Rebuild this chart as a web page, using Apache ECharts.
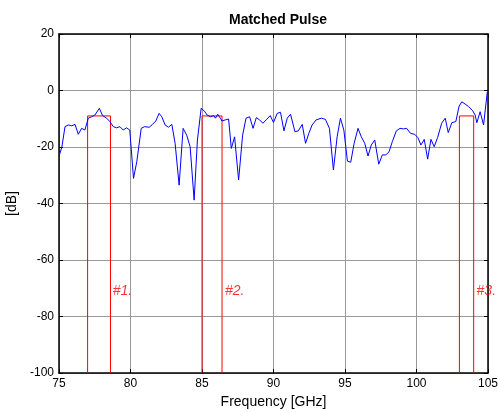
<!DOCTYPE html>
<html>
<head>
<meta charset="utf-8">
<script src="https://cdn.jsdelivr.net/npm/echarts@6/dist/echarts.min.js"></script>
<style>
  html, body { margin: 0; padding: 0; background: #fff; }
  #chart { width: 498px; height: 412px; }
</style>
</head>
<body>
<div id="chart"></div>
<script>
// measured response (GHz, dB)
const freq = [
  75.03, 75.2, 75.42, 75.65, 75.89, 76.12, 76.35, 76.58, 76.81, 77.05,
  77.28, 77.51, 77.82, 78.05, 78.33, 78.56, 78.8, 79.03, 79.26, 79.49,
  79.72, 79.95, 80.21, 80.44, 80.75, 80.98, 81.31, 81.54, 81.77, 82.0,
  82.19, 82.42, 82.65, 82.89, 83.12, 83.4, 83.68, 83.93, 84.17, 84.45,
  84.68, 84.94, 85.17, 85.36, 85.59, 85.82, 85.94, 86.1, 86.28, 86.4,
  86.63, 86.86, 87.05, 87.28, 87.56, 87.84, 88.08, 88.33, 88.57, 88.8,
  89.03, 89.26, 89.49, 89.77, 90.0, 90.26, 90.49, 90.73, 90.96, 91.19,
  91.5, 91.73, 92.01, 92.24, 92.47, 92.7, 92.98, 93.35, 93.63, 93.91,
  94.19, 94.45, 94.68, 94.92, 95.17, 95.4, 95.64, 95.91, 96.14, 96.38,
  96.61, 96.84, 97.08, 97.36, 97.61, 97.85, 98.08, 98.31, 98.59, 98.85,
  99.08, 99.31, 99.59, 99.87, 100.1, 100.31, 100.54, 100.78, 101.01, 101.24,
  101.48, 101.76, 102.01, 102.22, 102.47, 102.75, 102.98, 103.17, 103.4, 103.64,
  103.92, 104.1, 104.22, 104.45, 104.69, 104.95
];
const level = [
  -22.8, -20, -12.8, -12.2, -12.5, -12.0, -15.5, -13.4, -14.0, -9.8,
  -9.3, -8.7, -6.3, -8.9, -9.8, -11.0, -12.8, -13.2, -12.8, -14.0,
  -13.2, -14.0, -31.1, -25.2, -13.4, -12.8, -13.0, -12.0, -10.8, -8.1,
  -9.3, -12.2, -13.0, -12.0, -18.7, -33.5, -13.4, -15.8, -19.9, -38.8,
  -17.5, -6.3, -7.3, -8.7, -9.3, -8.9, -9.8, -8.4, -9.8, -10.8,
  -10.4, -10.1, -20.5, -16.4, -31.7, -15.8, -9.8, -9.3, -13.4, -9.6,
  -10.4, -11.6, -10.4, -8.9, -11.3, -8.1, -7.7, -14.3, -9.8, -8.4,
  -14.6, -14.3, -12.0, -18.7, -15.2, -12.2, -10.4, -9.8, -10.2, -13.4,
  -28.1, -16.4, -9.8, -14.0, -25.0, -25.4, -18.7, -13.4, -16.4, -18.7,
  -23.2, -19.3, -17.5, -26.1, -22.8, -22.8, -21.7, -18.1, -14.3, -13.4,
  -13.6, -13.4, -15.2, -15.5, -16.7, -19.3, -17.3, -24.3, -17.3, -19.9,
  -16.6, -11.6, -9.8, -14.9, -11.4, -11.0, -5.5, -4.0, -4.8, -5.7,
  -7.1, -8.7, -11.4, -7.5, -12.2, -0.5
];

// pulse windows
const pulseStart = [77.0, 85.0, 103.0];
const pulseEnd = [78.6, 86.4, 104.0];
const pulseTop = -9;
const pulseBottom = -100;
const pulseLabels = ['#1.', '#2.', '#3.'];
const labelX = [78.75, 86.6, 104.2];
const labelY = -71;

const xTicks = { min: 75, max: 105, interval: 5 };
const yTicks = { min: -100, max: 20, interval: 20 };

const chart = echarts.init(document.getElementById('chart'));

const lineData = freq.map((f, i) => [f, level[i]]);
const pulseData = [];
pulseStart.forEach((s, i) => {
  pulseData.push([s, pulseBottom], [s, pulseTop], [pulseEnd[i], pulseTop], [pulseEnd[i], pulseBottom]);
  if (i < pulseStart.length - 1) pulseData.push([null, null]);
});
const labelData = labelX.map((x, i) => [x, labelY, pulseLabels[i]]);

const FONT = '"Liberation Sans", Arial, sans-serif';
const axisLine = { show: true, onZero: false, lineStyle: { color: '#000', width: 1.5 } };
const tick = { show: true, inside: true, length: 4, lineStyle: { color: '#000' } };
const gridLine = { show: true, lineStyle: { color: '#999', width: 1 } };

const option = {
  animation: false,
  backgroundColor: '#fff',
  title: {
    text: 'Matched Pulse',
    left: 273,
    top: 8,
    textAlign: 'center',
    textStyle: { fontFamily: FONT, fontSize: 14, fontWeight: 'bold', color: '#000' }
  },
  grid: { left: 59, right: 10, top: 34, bottom: 39, outerBoundsMode: 'none' },
  xAxis: [
    {
      type: 'value', ...xTicks,
      name: 'Frequency [GHz]', nameLocation: 'middle', nameGap: 20,
      nameTextStyle: { fontFamily: FONT, fontSize: 14, color: '#000' },
      axisLine, axisTick: tick, splitLine: gridLine,
      axisLabel: { fontFamily: FONT, fontSize: 12, color: '#000', margin: 5 }
    },
    {
      type: 'value', ...xTicks, position: 'top',
      axisLine, axisTick: tick, splitLine: { show: false }, axisLabel: { show: false }
    }
  ],
  yAxis: [
    {
      type: 'value', ...yTicks,
      name: '[dB]', nameLocation: 'middle', nameGap: 30,
      nameTextStyle: { fontFamily: FONT, fontSize: 14, color: '#000' },
      axisLine, axisTick: tick, splitLine: gridLine,
      axisLabel: { fontFamily: FONT, fontSize: 12, color: '#000', margin: 5 }
    },
    {
      type: 'value', ...yTicks, position: 'right',
      axisLine, axisTick: tick, splitLine: { show: false }, axisLabel: { show: false }
    }
  ],
  series: [
    {
      type: 'line', data: lineData, symbol: 'none',
      lineStyle: { color: '#0000ff', width: 1 }, z: 3
    },
    {
      type: 'line', data: pulseData, symbol: 'none', connectNulls: false,
      lineStyle: { color: '#ff0000', width: 1 }, z: 2
    },
    {
      type: 'scatter', data: labelData, symbolSize: 0, z: 5,
      label: {
        show: true, position: 'right', distance: 0,
        formatter: p => p.value[2],
        fontFamily: FONT, fontSize: 14, fontStyle: 'italic', color: '#ff0000'
      }
    }
  ]
};

chart.setOption(option);
</script>
</body>
</html>
